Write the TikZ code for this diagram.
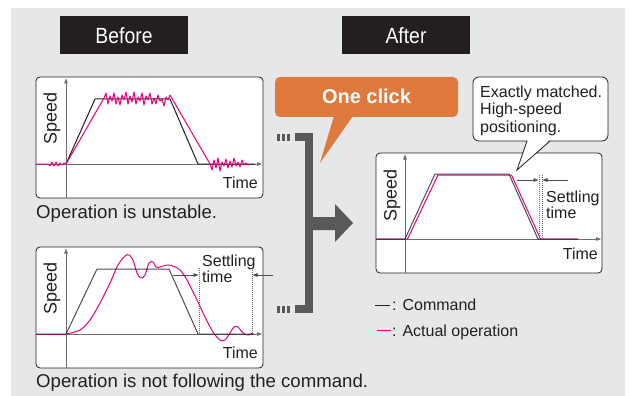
\documentclass[tikz,border=0pt]{standalone}
\usepackage{fontspec}
\setmainfont{Liberation Sans}
\usetikzlibrary{arrows.meta}
\definecolor{bg}{RGB}{230,231,233}
\definecolor{ink}{RGB}{35,31,32}
\definecolor{axisgray}{RGB}{110,111,113}
\definecolor{mag}{RGB}{230,0,126}
\definecolor{orng}{RGB}{224,122,60}
\definecolor{brk}{RGB}{88,89,91}
\tikzset{
  chartbox/.style={draw=ink, fill=white, line width=0.8pt, rounded corners=4pt},
  tip/.style={-{Triangle[length=5pt,width=3.6pt]}},
  axisline/.style={draw=axisgray, line width=0.8pt, tip},
  cmd/.style={draw=ink, line width=1pt, line join=round},
  act/.style={draw=mag, line width=1pt, line join=round},
  settle/.style={draw=axisgray, line width=0.8pt, dash pattern=on 1pt off 1pt},
  settlearrow/.style={draw=ink!80, line width=0.7pt, tip},
  lbl/.style={inner sep=0pt, font=\fontsize{16}{18}\selectfont, text=ink},
  twoline/.style={inner sep=0pt, align=left, anchor=north west, text=ink,
    font=\fontsize{16}{13}\selectfont},
  spd/.style={inner sep=0pt, rotate=90, anchor=base west, font=\fontsize{18}{20}\selectfont, text=ink},
  caption/.style={inner sep=0pt, anchor=base west, font=\fontsize{18.6}{20}\selectfont, text=ink},
  title/.style={inner sep=0pt, anchor=base, text=white, font=\fontsize{22}{24}\selectfont},
}
\begin{document}
\begin{tikzpicture}[x=1pt,y=-1pt]
\useasboundingbox (0,0) rectangle (630,396);
\fill[white] (0,0) rectangle (630,396);
\fill[bg] (11,8) rectangle (625,396);

% headings
\fill[ink] (60,16) rectangle (188,54);
\node[title] (before) at (124,44) {\scalebox{0.88}[1]{Before}};
\fill[ink] (342,16) rectangle (470,54);
\node[title] (after) at (406,44) {\scalebox{0.88}[1]{After}};

% ---------- chart 1: unstable ----------
\draw[chartbox] (36,77) rectangle (263,198);
\draw[axisline] (66,198) -- (66,78.5);
\draw[axisline] (36,164) -- (262,164);
\draw[cmd] (66,164) -- (95,99) -- (170,99) -- (198,164) -- (255,164);
\draw[act] (36,164) -- (48,164) -- (50,166) -- (52,162) -- (54,166) -- (56,162) -- (58,166)
  -- (60,163) -- (62,165) -- (64,163) -- (66,164) -- (104,98)
  -- (106,93) -- (108,104) -- (110,96) -- (112,101) -- (114,93) -- (116,104) -- (118,97)
  -- (120,105) -- (122,95) -- (124,100) -- (126,92) -- (128,104) -- (130,96) -- (132,102)
  -- (134,92) -- (136,104) -- (138,97) -- (140,101) -- (142,93) -- (144,105) -- (146,96)
  -- (148,100) -- (150,93) -- (152,104) -- (154,98) -- (156,104) -- (158,95) -- (160,101)
  -- (162,99) -- (164,106) -- (166,97) -- (168,100) -- (170,95) -- (210,164)
  -- (212,170) -- (214,160) -- (216,168) -- (218,158) -- (220,171) -- (222,162) -- (224,166)
  -- (226,159) -- (228,168) -- (230,161) -- (232,167) -- (234,158) -- (236,166) -- (238,162)
  -- (240,167) -- (242,160) -- (244,165) -- (246,163) -- (248,165) -- (250,164);
\node[spd] (speed1) at (56.5,145) {Speed};
\node[lbl, anchor=base east] (time1) at (258,188) {Time};
\node[caption] (cap1) at (36,218) {Operation is unstable.};

% ---------- chart 2: not following ----------
\draw[chartbox] (36,247) rectangle (263,368);
\draw[axisline] (66,368) -- (66,248.5);
\draw[axisline] (36,334) -- (262,334);
\draw[act] (36,334) -- (66,334);
\draw[act] plot[smooth, tension=0.55] coordinates {(66,334) (80,330) (90,320) (100,303)
  (110,283) (118,265) (125,256) (129,255) (133,260) (137,273) (141,278) (145,275)
  (149,263) (153,262) (156,267) (160,267) (167,265) (173,266) (180,270) (187,280)
  (197,300) (205,317) (213,332) (220,340) (225,340) (230,333) (234,327) (238,327)
  (243,333) (248,335) (253,333)};
\draw[cmd, opacity=0.8] (36,334) -- (66,334) -- (97,269) -- (169,269) -- (198,334) -- (254,334);
\draw[settle] (199,268) -- (199,334);
\draw[settle] (252,268) -- (252,334);
\draw[settlearrow] (173,275) -- (198.5,275);
\draw[settlearrow] (273,275) -- (252.5,275);
\node[twoline] (settle2) at (202,255) {Settling\\time};
\node[spd] (speed2) at (56.5,315) {Speed};
\node[lbl, anchor=base east] (time2) at (258,358) {Time};
\node[caption] (cap2) at (36,387) {Operation is not following the command.};

% ---------- bracket and arrow ----------
\fill[brk] (295,133) rectangle (313,141);
\fill[brk] (295,305) rectangle (313,313);
\fill[brk] (305,133) rectangle (313,313);
\foreach \xx in {277,282,287} {
  \fill[brk] (\xx,134.5) rectangle (\xx+3,141);
  \fill[brk] (\xx,306) rectangle (\xx+3,312.5);
}
\fill[brk] (312,217) -- (335,217) -- (335,204) -- (353,223) -- (335,242) -- (335,230) -- (312,230) -- cycle;

% ---------- "One click" callout ----------
\fill[orng, rounded corners=5pt] (275,77) rectangle (458,117);
\fill[orng] (334,116) -- (353,116) -- (320,163) -- cycle;
\node[inner sep=0pt, anchor=base, text=white, font=\fontsize{20}{22}\selectfont\bfseries] (oneclick) at (366.5,104) {One click};

% ---------- chart 3: after ----------
\draw[chartbox] (376,153) rectangle (602,273);
\draw[axisline] (405,273) -- (405,154.5);
\draw[axisline] (376,239) -- (601,239);
\draw[act] (376,239) -- (407.5,239) -- (438,175) -- (511.5,175) -- (540.5,239) -- (578,239);
\draw[cmd, opacity=0.8] (376,239) -- (405,239) -- (435,174) -- (509,174) -- (538,239) -- (578,239);
\draw[settle] (539,175) -- (539,239);
\draw[settle] (542,175) -- (542,239);
\draw[settlearrow] (517,180) -- (538.5,180);
\draw[settlearrow] (568,180) -- (542.5,180);
\node[twoline] (settle3) at (546,191) {Settling\\time};
\node[spd] (speed3) at (396.5,222) {Speed};
\node[lbl, anchor=base east] (time3) at (598,259) {Time};

% ---------- remark bubble ----------
\draw[fill=white, draw=ink, line width=0.8pt, rounded corners=6pt] (473,77) rectangle (608,141);
\fill[white] (527.6,140) -- (549.2,140) -- (517,170) -- cycle;
\draw[ink, line width=0.8pt, line join=miter] (527,141) -- (517,170) -- (550,141);
\node[lbl, anchor=base west] (rem1) at (480,98) {Exactly matched.};
\node[lbl, anchor=base west] (rem2) at (480,115) {High-speed};
\node[lbl, anchor=base west] (rem3) at (480,132) {positioning.};

% ---------- legend ----------
\draw[ink, line width=1pt] (375,305) -- (390,305);
\node[lbl, anchor=base west] (leg1) at (392,310) {: Command};
\draw[mag, line width=1pt] (377,330) -- (391,330);
\node[lbl, anchor=base west] (leg2) at (392,336) {: Actual operation};
\end{tikzpicture}
\end{document}
